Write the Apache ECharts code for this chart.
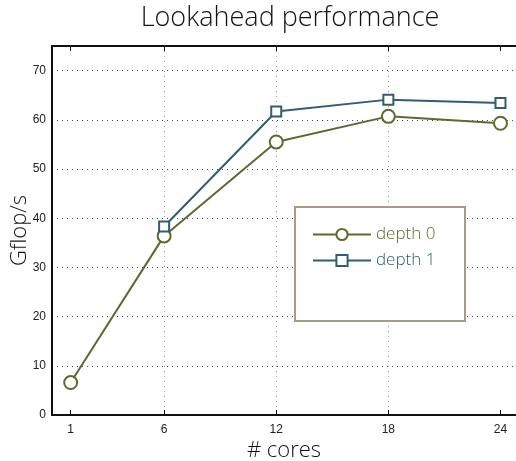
<!DOCTYPE html>
<html>
<head>
<meta charset="utf-8">
<script src="https://cdn.jsdelivr.net/npm/echarts@6/dist/echarts.min.js"></script>
<style>
  html, body { margin: 0; padding: 0; background: #fff; overflow: hidden; }
  #chart { width: 516px; height: 461px; }
</style>
</head>
<body>
<div id="chart"></div>
<script>
// Core counts on the x axis and measured performance (Gflop/s) per lookahead depth
const cores = [1, 6, 12, 18, 24];
const depth0 = [6.6, 36.4, 55.5, 60.7, 59.3];
const depth1 = [null, 38.3, 61.7, 64.1, 63.4];
const yTicks = [0, 10, 20, 30, 40, 50, 60, 70];

const olive = '#5e6a2c';
const teal = '#2e5f6c';
const titleFont = 'Open Sans';

const pairs = vals => cores.map((c, i) => [c, vals[i]]).filter(p => p[1] !== null);

const chart = echarts.init(document.getElementById('chart'));

const dotted = color => ({
  show: true, showMinLine: false, showMaxLine: false,
  lineStyle: { color, width: 1, type: [1, 4] }
});
const frameLine = { show: true, lineStyle: { color: '#111', width: 2 } };

chart.setOption({
  animation: false,
  title: {
    text: 'Lookahead performance',
    left: 285, top: 0, textAlign: 'center',
    textStyle: { fontFamily: titleFont, fontWeight: 300, fontSize: 27, color: '#111' }
  },
  grid: {
    left: 52, right: 0, top: 46, bottom: 46,
    outerBoundsMode: 'none', containLabel: false, show: false
  },
  xAxis: [{
    type: 'value', min: 0, max: 24.83,
    name: '# cores', nameLocation: 'middle', nameGap: 25, nameMoveOverlap: false,
    nameTextStyle: { fontFamily: titleFont, fontWeight: 300, fontSize: 22, color: '#111' },
    axisLine: frameLine,
    axisTick: { show: true, inside: true, length: 5, customValues: cores, lineStyle: { color: '#111' } },
    axisLabel: { customValues: cores, fontFamily: 'Liberation Sans', fontSize: 12, color: '#222', margin: 9 },
    splitLine: dotted('#999')
  }, {
    type: 'value', min: 0, max: 24.83, position: 'top',
    axisLine: frameLine,
    axisTick: { show: true, inside: true, length: 5, customValues: cores, lineStyle: { color: '#111' } },
    axisLabel: { show: false },
    splitLine: { show: false }
  }],
  yAxis: {
    type: 'value', min: 0, max: 75, interval: 10,
    name: 'Gflop/s', nameLocation: 'middle', nameGap: 21, nameMoveOverlap: false,
    nameTextStyle: { fontFamily: titleFont, fontWeight: 300, fontSize: 22, color: '#111' },
    axisLine: frameLine,
    axisTick: { show: false },
    axisLabel: {
      showMaxLabel: false,
      fontFamily: 'Liberation Sans', fontSize: 12, color: '#222', margin: 6,
      formatter: v => (yTicks.includes(v) ? String(v) : '')
    },
    splitLine: dotted('#444')
  },
  legend: {
    orient: 'vertical', left: 312, top: 226, padding: 0,
    itemWidth: 58, itemHeight: 14, itemGap: 9,
    textStyle: { fontFamily: titleFont, fontWeight: 300, fontSize: 17 },
    data: [
      { name: 'depth 0', textStyle: { color: olive } },
      { name: 'depth 1', textStyle: { color: teal } }
    ]
  },
  graphic: [{
    type: 'rect', left: 294, top: 206, z: 1,
    shape: { width: 170, height: 114 },
    style: { fill: '#fff', stroke: '#a89b85', lineWidth: 2 }
  }],
  series: [{
    name: 'depth 0', type: 'line', data: pairs(depth0),
    symbol: 'circle', symbolSize: 13, z: 3,
    lineStyle: { color: olive, width: 2 },
    itemStyle: { color: '#fff', borderColor: olive, borderWidth: 2 }
  }, {
    name: 'depth 1', type: 'line', data: pairs(depth1),
    symbol: 'rect', symbolSize: 10, z: 4,
    lineStyle: { color: teal, width: 2 },
    itemStyle: { color: '#fff', borderColor: teal, borderWidth: 2 }
  }]
});
</script>
</body>
</html>
